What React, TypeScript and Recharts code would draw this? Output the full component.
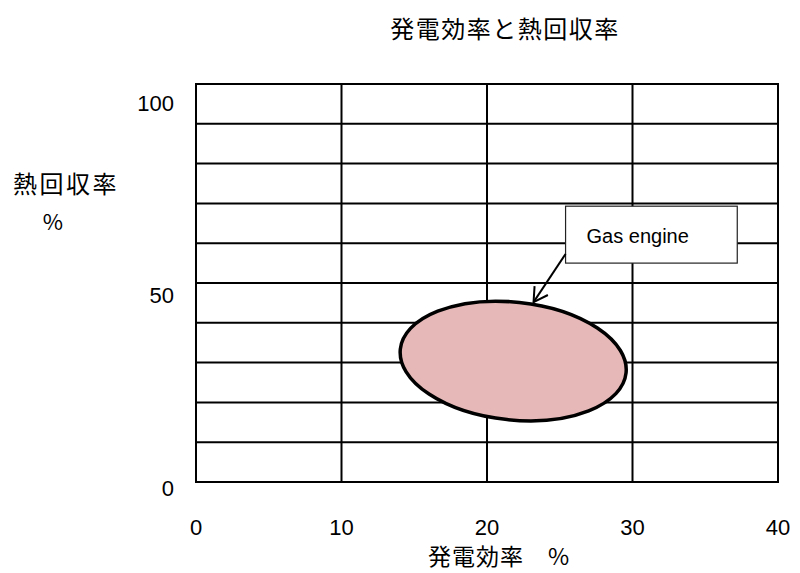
import React from 'react';
import {
  ScatterChart,
  Scatter,
  XAxis,
  YAxis,
  CartesianGrid,
  ReferenceArea,
  ReferenceLine,
} from 'recharts';

// axis values
const xTicks = [0, 10, 20, 30, 40];
const yTicks = [0, 50, 100];
const yGridValues = [0, 10, 20, 30, 40, 50, 60, 70, 80, 90, 100];

// gas engine region (power efficiency %, heat recovery %)
const engineX = [14.0, 29.6];
const engineY = [15.6, 45.2];
const engineCenter = [{ x: 21.8, y: 30.4 }];

// callout box + arrow
const calloutX = [25.4, 37.2];
const calloutY = [55.0, 69.3];
const arrowFrom = [25.4, 57.3];
const arrowTo = [23.2, 45.2];
const calloutText = 'Gas engine';

const JP = '"Noto Sans CJK JP", "Noto Sans", sans-serif';
const LATIN = '"Liberation Sans", Arial, sans-serif';

function YTick({ x, y, payload }: any) {
  return (
    <text
      x={x}
      y={y + 6 + payload.value * 0.13}
      textAnchor="end"
      dominantBaseline="central"
      fontSize={22}
      fontFamily={LATIN}
      fill="#000"
    >
      {payload.value}
    </text>
  );
}

function XTick({ x, y, payload }: any) {
  return (
    <text
      x={x}
      y={y}
      textAnchor="middle"
      dominantBaseline="central"
      fontSize={22}
      fontFamily={LATIN}
      fill="#000"
    >
      {payload.value}
    </text>
  );
}

function EllipseShape({ x, y, width, height }: any) {
  const cx = x + width / 2;
  const cy = y + height / 2;
  return (
    <ellipse
      cx={cx}
      cy={cy}
      rx={width / 2}
      ry={height / 2}
      transform={`rotate(6 ${cx} ${cy})`}
      fill="#E6B8B7"
      stroke="#000"
      strokeWidth={3.5}
    />
  );
}

function CalloutShape({ x, y, width, height }: any) {
  return (
    <g>
      <rect x={x} y={y} width={width} height={height} fill="#fff" stroke="#222" strokeWidth={1.2} />
      <text
        x={x + 21}
        y={y + height / 2 + 1}
        dominantBaseline="central"
        fontSize={20}
        fontFamily={LATIN}
        fill="#000"
      >
        {calloutText}
      </text>
    </g>
  );
}

function ArrowShape({ x1, y1, x2, y2 }: any) {
  const ang = Math.atan2(y2 - y1, x2 - x1);
  const len = 16;
  const spread = Math.PI / 6;
  const ax = x2 - len * Math.cos(ang - spread);
  const ay = y2 - len * Math.sin(ang - spread);
  const bx = x2 - len * Math.cos(ang + spread);
  const by = y2 - len * Math.sin(ang + spread);
  return (
    <g stroke="#000" strokeWidth={2} fill="none">
      <line x1={x1} y1={y1} x2={x2} y2={y2} />
      <polyline points={`${ax},${ay} ${x2},${y2} ${bx},${by}`} />
    </g>
  );
}

export default function App() {
  return (
    <div style={{ position: 'absolute', left: 0, top: 0, width: 800, height: 573, background: '#fff' }}>
      <ScatterChart
        width={800}
        height={573}
        margin={{ top: 84, right: 22, bottom: 31, left: 136 }}
      >
        <CartesianGrid
          stroke="#000"
          strokeWidth={2}
          horizontalValues={yGridValues}
          verticalValues={xTicks}
        />
        <XAxis
          type="number"
          dataKey="x"
          domain={[0, 40]}
          ticks={xTicks}
          height={60}
          axisLine={false}
          tickLine={false}
          tickSize={0}
          tickMargin={45}
          tick={<XTick />}
        />
        <YAxis
          type="number"
          dataKey="y"
          domain={[0, 100]}
          ticks={yTicks}
          width={60}
          axisLine={false}
          tickLine={false}
          tickSize={0}
          tickMargin={22}
          tick={<YTick />}
        />
        <ReferenceArea x1={0} x2={40} y1={0} y2={100} fill="none" stroke="#000" strokeWidth={2} />
        <ReferenceArea
          x1={engineX[0]}
          x2={engineX[1]}
          y1={engineY[0]}
          y2={engineY[1]}
          shape={<EllipseShape />}
        />
        <ReferenceArea
          x1={calloutX[0]}
          x2={calloutX[1]}
          y1={calloutY[0]}
          y2={calloutY[1]}
          shape={<CalloutShape />}
        />
        <ReferenceLine
          segment={[
            { x: arrowFrom[0], y: arrowFrom[1] },
            { x: arrowTo[0], y: arrowTo[1] },
          ]}
          shape={<ArrowShape />}
        />
        <Scatter
          data={engineCenter}
          isAnimationActive={false}
          fill="none"
          shape={() => <g />}
        />
      </ScatterChart>
      <svg
        width={800}
        height={573}
        style={{ position: 'absolute', left: 0, top: 0, pointerEvents: 'none' }}
      >
        <text x={505} y={27} textAnchor="middle" dominantBaseline="central" fontSize={24} letterSpacing={1.5} fontFamily={JP}>
          発電効率と熱回収率
        </text>
        <text x={13} y={182} dominantBaseline="central" fontSize={24} letterSpacing={2.5} fontFamily={JP}>
          熱回収率
        </text>
        <text x={53} y={220} textAnchor="middle" dominantBaseline="central" fontSize={22} fontFamily={JP}>
          %
        </text>
        <text x={428} y={555} dominantBaseline="central" fontSize={23} letterSpacing={1} fontFamily={JP}>
          発電効率　%
        </text>
      </svg>
    </div>
  );
}
